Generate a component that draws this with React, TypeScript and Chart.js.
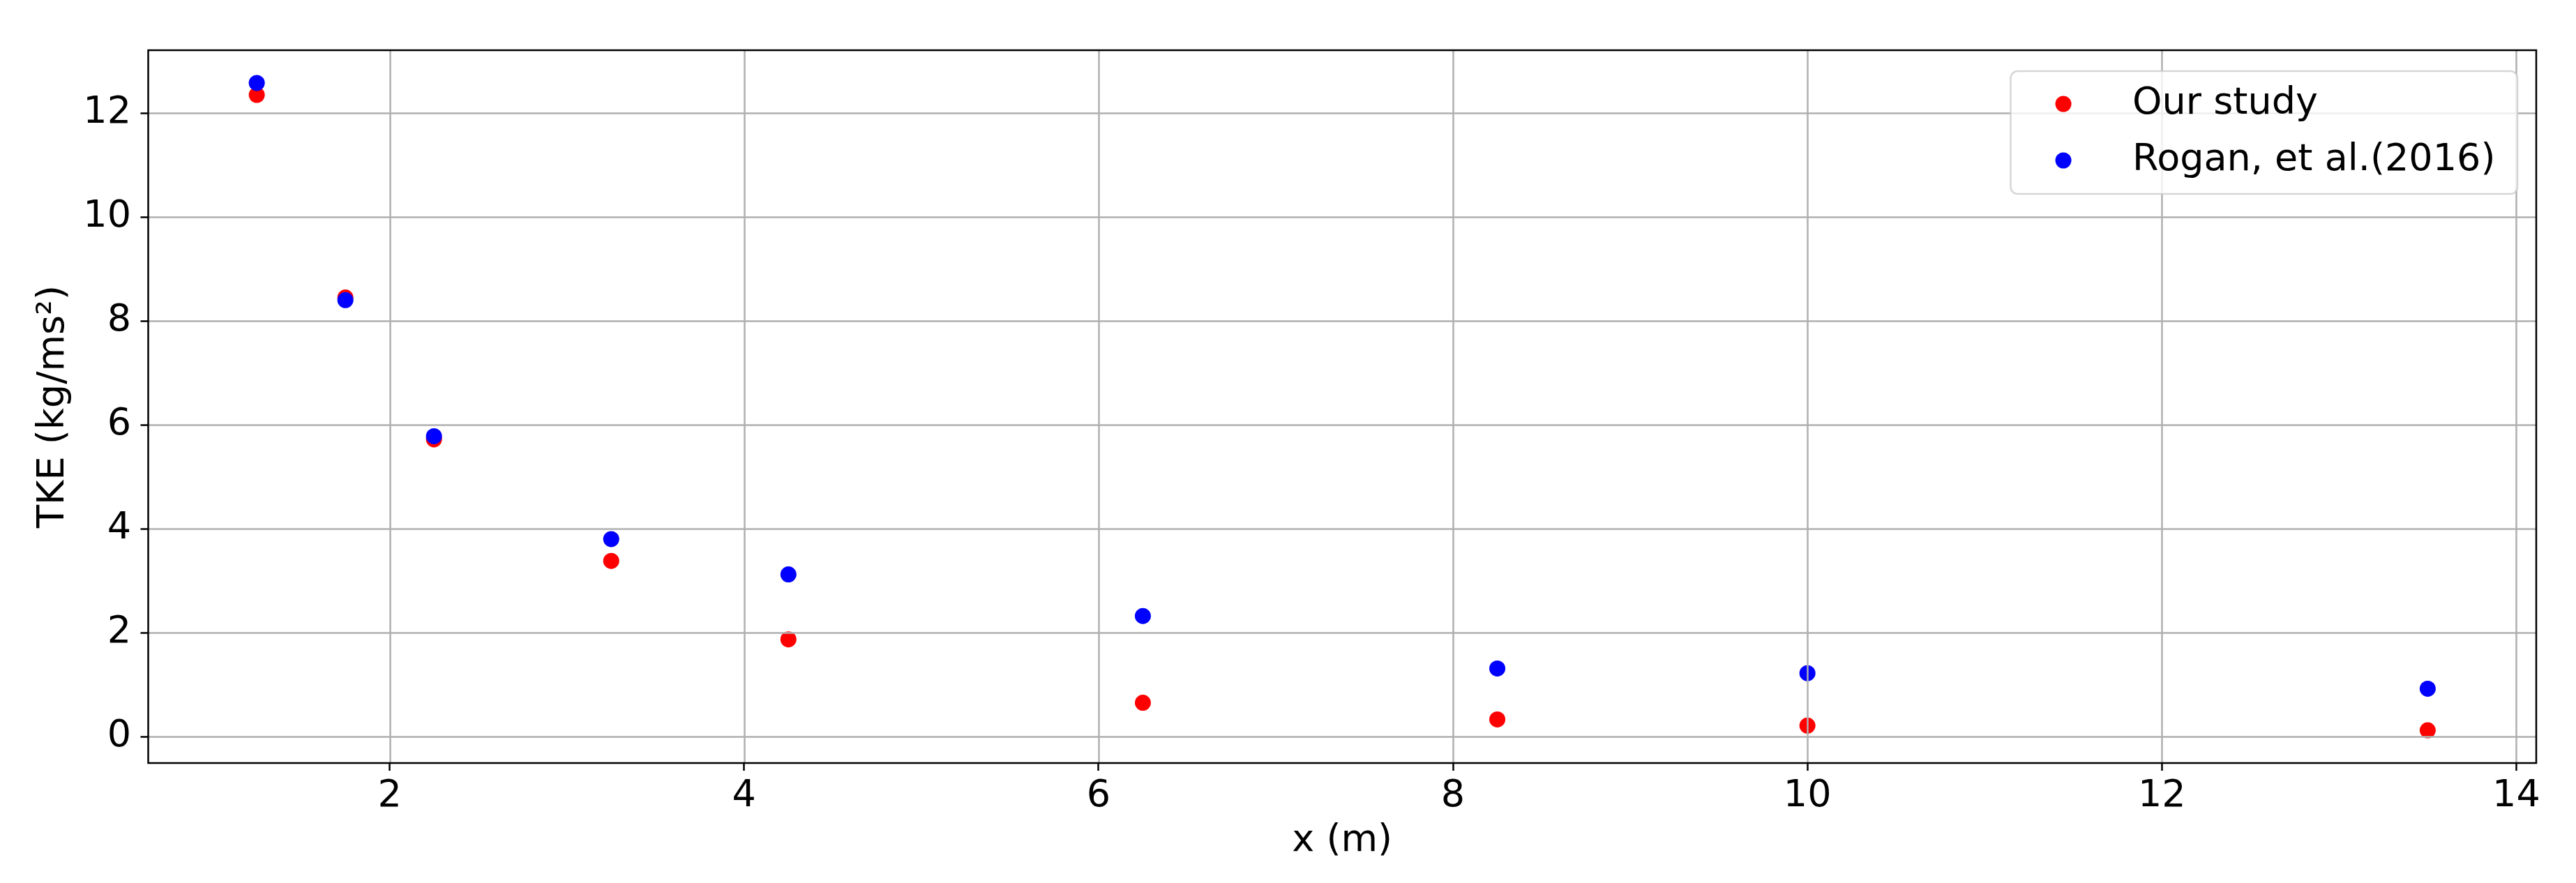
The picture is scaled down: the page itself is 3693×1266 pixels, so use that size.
import React, { useEffect, useRef } from "react";
import { Chart, registerables } from "chart.js";

Chart.register(...registerables);

const xPositions = [1.25, 1.75, 2.25, 3.25, 4.25, 6.25, 8.25, 10, 13.5];
const ourStudy = [12.35, 8.45, 5.72, 3.38, 1.87, 0.65, 0.33, 0.21, 0.12];
const roganStudy = [12.58, 8.4, 5.78, 3.8, 3.12, 2.32, 1.31, 1.22, 0.92];
const seriesLabels = ["Our study", "Rogan, et al.(2016)"];
const xTicks = [2, 4, 6, 8, 10, 12, 14];
const yTicks = [0, 2, 4, 6, 8, 10, 12];
const xTitle = "x (m)";
const yTitle = "TKE (kg/ms²)";

const FONT = "'DejaVu Sans', 'Liberation Sans', sans-serif";
const FS = 54;

const overlayPlugin = {
  id: "overlay",
  afterDatasetsDraw(chart: any) {
    const { ctx, chartArea: a, scales } = chart;
    const xs = scales.x;
    const ys = scales.y;
    ctx.save();
    // grid lines (drawn over markers, like matplotlib)
    ctx.strokeStyle = "#b0b0b0";
    ctx.lineWidth = 2.5;
    ctx.beginPath();
    for (const v of xTicks) {
      const px = Math.round(xs.getPixelForValue(v)) + 0.5;
      ctx.moveTo(px, a.top);
      ctx.lineTo(px, a.bottom);
    }
    for (const v of yTicks) {
      const py = Math.round(ys.getPixelForValue(v)) + 0.5;
      ctx.moveTo(a.left, py);
      ctx.lineTo(a.right, py);
    }
    ctx.stroke();
    // spines
    ctx.strokeStyle = "#000";
    ctx.lineWidth = 2.5;
    ctx.strokeRect(a.left, a.top, a.right - a.left, a.bottom - a.top);

    // legend
    ctx.font = `${FS}px ${FONT}`;
    const ds = chart.data.datasets;
    let maxW = 0;
    for (const d of ds) maxW = Math.max(maxW, ctx.measureText(d.label).width);
    const boxW = 174.5 + maxW + 31.5;
    const boxH = 176;
    const boxRight = a.right - 27;
    const boxLeft = boxRight - boxW;
    const boxTop = a.top + 30;
    const r = 10;
    ctx.beginPath();
    ctx.moveTo(boxLeft + r, boxTop);
    ctx.lineTo(boxLeft + boxW - r, boxTop);
    ctx.arcTo(boxLeft + boxW, boxTop, boxLeft + boxW, boxTop + r, r);
    ctx.lineTo(boxLeft + boxW, boxTop + boxH - r);
    ctx.arcTo(boxLeft + boxW, boxTop + boxH, boxLeft + boxW - r, boxTop + boxH, r);
    ctx.lineTo(boxLeft + r, boxTop + boxH);
    ctx.arcTo(boxLeft, boxTop + boxH, boxLeft, boxTop + boxH - r, r);
    ctx.lineTo(boxLeft, boxTop + r);
    ctx.arcTo(boxLeft, boxTop, boxLeft + r, boxTop, r);
    ctx.closePath();
    ctx.fillStyle = "rgba(255,255,255,0.8)";
    ctx.fill();
    ctx.strokeStyle = "rgba(204,204,204,0.8)";
    ctx.lineWidth = 2.5;
    ctx.stroke();

    ctx.textAlign = "left";
    ctx.textBaseline = "alphabetic";
    ds.forEach((d: any, i: number) => {
      const rowBase = boxTop + 61 + i * 81;
      ctx.beginPath();
      ctx.arc(boxLeft + 75.5, rowBase - 14, 11.5, 0, Math.PI * 2);
      ctx.fillStyle = d.backgroundColor;
      ctx.fill();
      ctx.fillStyle = "#000";
      ctx.fillText(d.label, boxLeft + 174.5, rowBase);
    });
    ctx.restore();
  },
};

export default function App() {
  const ref = useRef<HTMLCanvasElement | null>(null);

  useEffect(() => {
    document.body.style.margin = "0";
    const canvas = ref.current;
    if (!canvas) return;
    Chart.defaults.font.family = FONT;
    Chart.defaults.font.size = FS;
    Chart.defaults.color = "#000";

    const chart = new Chart(canvas, {
      type: "scatter",
      data: {
        datasets: [
          {
            label: seriesLabels[0],
            data: xPositions.map((x, i) => ({ x, y: ourStudy[i] })),
            backgroundColor: "#ff0000",
            borderWidth: 0,
            pointRadius: 11.5,
            order: 1,
          },
          {
            label: seriesLabels[1],
            data: xPositions.map((x, i) => ({ x, y: roganStudy[i] })),
            backgroundColor: "#0000ff",
            borderWidth: 0,
            pointRadius: 11.5,
            order: 0,
          },
        ],
      },
      options: {
        responsive: false,
        animation: false,
        devicePixelRatio: 1,
        layout: { padding: { left: 0, right: 57, top: 72, bottom: 0 } },
        plugins: {
          legend: { display: false },
          tooltip: { enabled: false },
        },
        scales: {
          x: {
            type: "linear",
            min: 0.6375,
            max: 14.1125,
            afterBuildTicks: (s: any) => {
              s.ticks = xTicks.map((v) => ({ value: v }));
            },
            afterFit: (s: any) => {
              s.height = 172;
            },
            ticks: {
              padding: 5,
              color: "#000",
              font: { size: FS, family: FONT },
              callback: (v: any) => String(v),
              maxRotation: 0,
              autoSkip: false,
            },
            grid: {
              display: true,
              drawOnChartArea: false,
              drawTicks: true,
              tickLength: 11,
              tickColor: "#000",
              tickWidth: 2.5,
            },
            border: { display: false },
            title: {
              display: true,
              text: xTitle,
              color: "#000",
              font: { size: FS, family: FONT },
              padding: { top: 0, bottom: 27.6 },
            },
          },
          y: {
            type: "linear",
            min: -0.51,
            max: 13.21,
            afterBuildTicks: (s: any) => {
              s.ticks = yTicks.map((v) => ({ value: v }));
            },
            afterFit: (s: any) => {
              s.width = 212.5;
            },
            ticks: {
              padding: 13.5,
              color: "#000",
              font: { size: FS, family: FONT },
              callback: (v: any) => String(v),
              autoSkip: false,
            },
            grid: {
              display: true,
              drawOnChartArea: false,
              drawTicks: true,
              tickLength: 11,
              tickColor: "#000",
              tickWidth: 2.5,
            },
            border: { display: false },
            title: {
              display: true,
              text: yTitle,
              color: "#000",
              font: { size: FS, family: FONT },
              padding: { top: 44.6, bottom: 0 },
            },
          },
        },
      },
      plugins: [overlayPlugin],
    });
    return () => chart.destroy();
  }, []);

  return (
    <div style={{ position: "fixed", left: 0, top: 0, width: 3693, height: 1266, background: "#fff" }}>
      <canvas ref={ref} width={3693} height={1266} style={{ width: 3693, height: 1266, display: "block" }} />
    </div>
  );
}
